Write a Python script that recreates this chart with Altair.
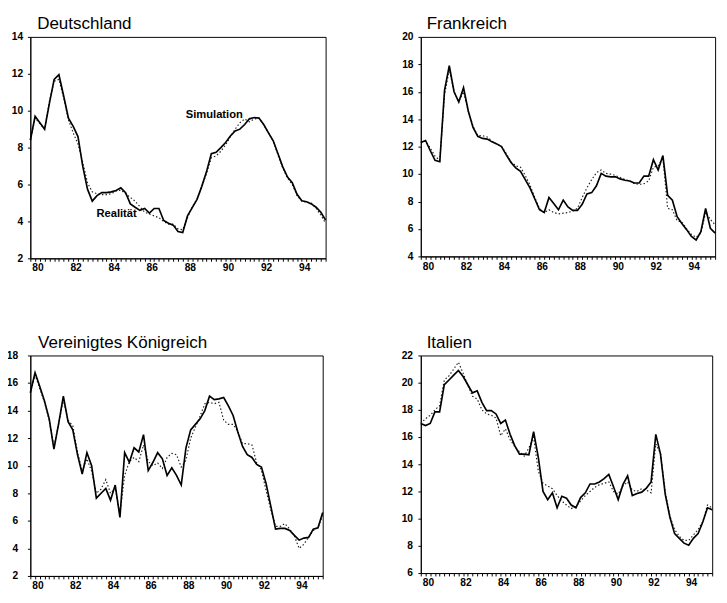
import altair as alt
import pandas as pd

# quarterly observations 1980Q1 .. 1995Q3
quarters = [1980 + i / 4 for i in range(63)]

de_real = [8.4, 9.7, 9.35, 9.0,
           10.4, 11.7, 11.95, 10.8,
           9.6, 9.15, 8.6, 7.0,
           5.75, 5.1, 5.4, 5.56,
           5.56, 5.6, 5.68, 5.82,
           5.56, 4.95, 4.77, 4.6,
           4.7, 4.45, 4.7, 4.7,
           4.05, 3.9, 3.8, 3.45,
           3.4, 4.3, 4.75, 5.2,
           5.9, 6.7, 7.67, 7.75,
           8.0, 8.28, 8.63, 8.9,
           9.0, 9.25, 9.56, 9.63,
           9.6, 9.25, 8.8, 8.37,
           7.67, 6.96, 6.4, 6.1,
           5.47, 5.12, 5.07, 4.95,
           4.77, 4.5, 4.07]
de_sim = [8.4, 9.6, 9.3, 9.0,
          10.5, 11.6, 11.7, 10.7,
          9.5, 8.8, 8.2, 7.2,
          6.1, 5.6, 5.5, 5.45,
          5.45, 5.5, 5.65, 5.7,
          5.5, 5.3, 5.1, 4.8,
          4.5, 4.4, 4.3, 4.2,
          4.0, 3.85, 3.85, 3.6,
          3.55, 4.2, 4.8, 5.2,
          5.9, 6.6, 7.45, 7.55,
          7.8, 8.15, 8.6, 9.0,
          9.35, 9.55, 9.4, 9.55,
          9.6, 9.25, 8.8, 8.35,
          7.6, 6.9, 6.35, 6.0,
          5.4, 5.1, 5.05, 5.0,
          4.7, 4.35, 3.9]

fr_real = [12.3, 12.45, 11.7, 11.0,
           10.9, 16.1, 17.9, 16.0,
           15.25, 16.3, 14.6, 13.4,
           12.75, 12.6, 12.55, 12.35,
           12.2, 12.0, 11.4, 10.85,
           10.45, 10.2, 9.6, 9.0,
           8.2, 7.4, 7.2, 8.3,
           7.85, 7.4, 8.1, 7.6,
           7.35, 7.35, 7.8, 8.55,
           8.65, 9.15, 10.05, 9.85,
           9.8, 9.8, 9.65, 9.55,
           9.5, 9.35, 9.35, 9.85,
           9.85, 11.05, 10.3, 11.35,
           8.45, 8.1, 6.9, 6.4,
           5.95, 5.45, 5.2, 5.8,
           7.5, 6.05, 5.7]
fr_sim = [12.3, 12.4, 11.9, 11.3,
          11.0, 15.8, 17.6, 16.0,
          15.3, 16.0, 14.6, 13.5,
          12.8, 12.8, 12.7, 12.4,
          12.2, 12.0, 11.5, 10.9,
          10.6, 10.5, 9.9, 9.2,
          8.3, 7.5, 7.2, 7.4,
          7.2, 7.1, 7.15, 7.2,
          7.3, 7.5, 8.3, 9.0,
          9.6, 10.1, 10.3, 10.05,
          10.0, 9.9, 9.75, 9.6,
          9.5, 9.3, 9.25, 9.3,
          9.5, 10.5, 10.6, 11.2,
          7.5, 7.4, 6.6, 6.5,
          6.0, 5.6, 5.4, 5.7,
          7.2, 6.7, 6.3]

uk_real = [15.3, 16.75, 15.75, 14.7,
           13.4, 11.2, 13.05, 15.05,
           13.2, 12.6, 10.8, 9.4,
           10.95, 10.0, 7.65, 8.0,
           8.35, 7.5, 8.6, 6.25,
           10.95, 10.25, 11.3, 11.0,
           12.25, 9.65, 10.25, 10.95,
           10.5, 9.3, 9.85, 9.3,
           8.6, 11.3, 12.6, 13.0,
           13.4, 14.0, 15.05, 14.8,
           14.85, 14.95, 14.35, 13.65,
           12.45, 11.4, 10.8, 10.6,
           10.1, 9.9, 8.7, 7.05,
           5.4, 5.45, 5.45, 5.3,
           4.95, 4.6, 4.75, 4.8,
           5.4, 5.5, 6.6]
uk_sim = [15.3, 16.6, 15.6, 14.6,
          13.3, 11.4, 13.0, 14.8,
          13.3, 12.9, 11.0, 9.6,
          10.5, 9.6, 8.0, 8.3,
          9.0, 8.0, 8.4, 6.5,
          9.3, 10.3, 10.6, 10.3,
          11.5, 10.3, 10.0, 10.2,
          9.8, 10.6, 10.9, 10.8,
          9.9, 10.4, 12.0, 12.8,
          13.6, 14.5, 14.6, 14.5,
          14.6, 13.3, 13.0, 13.0,
          12.5, 11.6, 11.6, 11.5,
          10.2, 9.7, 8.2, 6.8,
          5.6, 5.6, 5.8, 5.4,
          4.9, 4.0, 4.3, 4.8,
          5.3, 5.5, 6.4]

it_real = [17.0, 16.85, 17.0, 17.85,
           17.85, 19.85, 20.2, 20.55,
           20.9, 20.45, 19.85, 19.25,
           19.4, 18.55, 17.95, 17.95,
           17.7, 17.0, 17.25, 16.2,
           15.35, 14.75, 14.75, 14.7,
           16.4, 14.5, 12.0, 11.4,
           11.9, 10.8, 11.65, 11.5,
           11.0, 10.8, 11.55, 11.9,
           12.55, 12.55, 12.7, 12.95,
           13.25, 12.35, 11.4, 12.5,
           13.15, 11.7, 11.85, 11.95,
           12.25, 12.7, 16.2, 14.75,
           11.8, 10.1, 8.9, 8.55,
           8.2, 8.05, 8.55, 8.9,
           9.75, 10.8, 10.65]
it_sim = [17.0, 17.35, 17.6, 18.0,
          18.3, 20.2, 20.5, 21.0,
          21.5, 20.7, 19.8, 19.0,
          18.8, 18.0, 17.7, 17.6,
          17.4, 16.1, 16.6, 15.8,
          15.3, 14.9, 14.6, 15.2,
          16.0, 13.5, 12.6, 12.4,
          12.2, 11.7, 11.3, 11.0,
          10.75, 10.9, 11.3, 11.7,
          12.0, 12.3, 12.5, 12.6,
          12.7, 12.0, 11.8, 12.4,
          12.7, 12.1, 12.0, 12.2,
          12.1, 11.9, 15.5, 14.8,
          12.0, 10.2, 9.2, 8.7,
          8.4, 8.4, 8.8, 9.2,
          9.8, 11.0, 10.8]

titles = ["Deutschland", "Frankreich", "Vereinigtes Königreich", "Italien"]

# annotation labels in the Deutschland panel
ann_text = ["Simulation", "Realität"]
ann_t = [1988.16, 1983.47]
ann_v = [9.74, 4.4]

FONT = "Liberation Sans"


def panel(title, real, sim, ymin, ymax, width, height, label_pad, title_dx,
          annotate=False):
    df = pd.DataFrame({"t": quarters, "real": real, "sim": sim})
    xs = alt.Scale(domain=[1980, 1995.5], nice=False, zero=False)
    ys = alt.Scale(domain=[ymin, ymax], nice=False, zero=False)
    xaxis = alt.Axis(
        values=quarters, title=None, grid=False, tickSize=3, tickColor="black",
        domainColor="black", labelColor="black", labelFont=FONT, labelFontSize=10.5,
        labelFontWeight="bold", labelAlign="left", labelOffset=1.5, labelPadding=2,
        labelFlush=False, labelOverlap=False, labelBaseline="top",
        labelExpr="datum.value % 2 == 0 ? substring(toString(datum.value), 2, 4) : ''",
    )
    yaxis = alt.Axis(
        values=list(range(ymin, ymax + 1, 2)), title=None, grid=False, tickSize=3,
        tickColor="black", domainColor="black", labelColor="black", labelFont=FONT,
        labelFontSize=10.5, labelFontWeight="bold", labelPadding=label_pad,
        labelOverlap=False, labelFlush=False,
    )
    base = alt.Chart(df)
    real_line = base.mark_line(color="black", strokeWidth=1.7).encode(
        x=alt.X("t:Q", scale=xs, axis=xaxis),
        y=alt.Y("real:Q", scale=ys, axis=yaxis),
    )
    sim_line = base.mark_line(color="#222222", strokeWidth=1.2, strokeDash=[1.5, 2.2]).encode(
        x=alt.X("t:Q", scale=xs, axis=xaxis),
        y=alt.Y("sim:Q", scale=ys, axis=yaxis),
    )
    head = alt.Chart(pd.DataFrame({"name": [title]})).mark_text(
        align="left", baseline="alphabetic", font=FONT, fontSize=17.5,
        fontWeight="normal", color="black",
    ).encode(x=alt.value(title_dx), y=alt.value(-8), text="name:N")
    layers = [sim_line, real_line, head]
    if annotate:
        adf = pd.DataFrame({"t": ann_t, "v": ann_v, "label": ann_text})
        txt = alt.Chart(adf).mark_text(
            align="left", baseline="middle", font=FONT, fontSize=11.5,
            fontWeight="bold", color="black"
        ).encode(
            x=alt.X("t:Q", scale=xs, axis=xaxis),
            y=alt.Y("v:Q", scale=ys, axis=yaxis),
            text="label:N",
        )
        layers.append(txt)
    return alt.layer(*layers).properties(width=width, height=height)


p1 = panel(titles[0], de_real, de_sim, 2, 14, 304, 228, 5, 7, annotate=True)
p2 = panel(titles[1], fr_real, fr_sim, 4, 20, 303, 226, 5, 6)
p3 = panel(titles[2], uk_real, uk_sim, 2, 18, 301, 227, 10, 8)
p4 = panel(titles[3], it_real, it_sim, 6, 22, 300, 224, 5.5, 6)

chart = alt.concat(
    p1, p2, p3, p4, columns=2, align="none",
    spacing={"row": 61, "column": 73},
).properties(
    padding={"left": -3, "top": -2, "right": 0, "bottom": 0}
).configure_view(stroke="black", strokeWidth=1)

chart.save("out.html", embed_options={"renderer": "svg", "actions": False})
